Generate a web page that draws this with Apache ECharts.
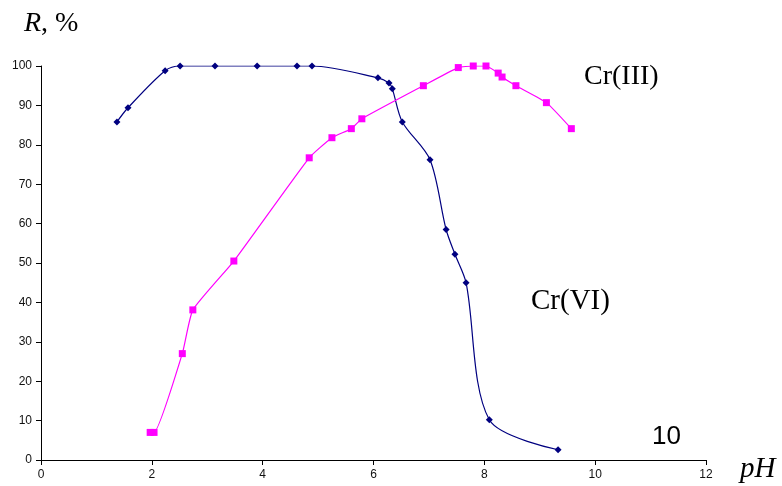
<!DOCTYPE html>
<html>
<head>
<meta charset="utf-8">
<script src="https://cdn.jsdelivr.net/npm/echarts@6/dist/echarts.min.js"></script>
<style>
	html, body { margin: 0; padding: 0; background: #fff; }
	#chart { width: 782px; height: 486px; }
</style>
</head>
<body>
<div id="chart"></div>
<script>
	// Cr(VI) — синяя кривая
	const crVI_pH = [1.37, 1.57, 2.24, 2.51, 3.14, 3.90, 4.62, 4.89, 6.08, 6.28, 6.34, 6.52, 7.02, 7.31, 7.47, 7.67, 8.09, 9.33];
	const crVI_R = [85.8, 89.4, 98.8, 100, 100, 100, 100, 100, 97.0, 95.7, 94.2, 85.8, 76.2, 58.5, 52.2, 45.0, 10.2, 2.6];
	// Cr(III) — розовая кривая
	const crIII_pH = [1.97, 2.04, 2.55, 2.74, 3.48, 4.84, 5.25, 5.60, 5.79, 6.90, 7.53, 7.80, 8.03, 8.25, 8.32, 8.57, 9.12, 9.57];
	const crIII_R = [7.0, 7.0, 27.0, 38.1, 50.5, 76.7, 81.8, 84.1, 86.6, 95.0, 99.6, 100, 100, 98.2, 97.2, 95.0, 90.7, 84.1];

	const pair = (xs, ys) => xs.map((x, i) => [x, ys[i]]);

	const tickFont = {
		fontFamily: 'Liberation Sans Narrow, Liberation Sans, Arial',
		fontSize: 12,
		color: '#111'
	};

	const myChart = echarts.init(document.getElementById('chart'));
	const option = {
		animation: false,
		grid: { left: 41, right: 76, top: 66, bottom: 26 },
		xAxis: {
			type: 'value',
			min: 0,
			max: 12,
			interval: 2,
			splitLine: { show: false },
			axisLine: { onZero: false, lineStyle: { color: '#000', width: 1 } },
			axisTick: { show: true, length: 5, lineStyle: { color: '#000' } },
			axisLabel: Object.assign({ margin: 9 }, tickFont)
		},
		yAxis: {
			type: 'value',
			min: 0,
			max: 100,
			interval: 10,
			splitLine: { show: false },
			axisLine: { show: true, lineStyle: { color: '#000', width: 1 } },
			axisTick: { show: true, length: 5, lineStyle: { color: '#000' } },
			axisLabel: Object.assign({ margin: 9 }, tickFont)
		},
		series: [{
			name: 'Cr(VI)',
			type: 'line',
			smooth: 0.3,
			data: pair(crVI_pH, crVI_R),
			symbol: 'diamond',
			symbolSize: 7,
			itemStyle: { color: '#000080' },
			lineStyle: { color: '#000080', width: 1.2 }
		}, {
			name: 'Cr(III)',
			type: 'line',
			smooth: 0.15,
			data: pair(crIII_pH, crIII_R),
			symbol: 'rect',
			symbolSize: 7,
			itemStyle: { color: '#FF00FF' },
			lineStyle: { color: '#FF00FF', width: 1.2 }
		}],
		graphic: [{
			type: 'text', left: 24, top: 10,
			style: { text: '{i|R}, %', fill: '#000', font: '28px Liberation Serif',
				rich: { i: { fontStyle: 'italic', fontFamily: 'Liberation Serif', fontSize: 28 } } }
		}, {
			type: 'text', left: 584, top: 63,
			style: { text: 'Cr(III)', fill: '#000', font: '28px Liberation Serif' }
		}, {
			type: 'text', left: 531, top: 287,
			style: { text: 'Cr(VI)', fill: '#000', font: '29px Liberation Serif' }
		}, {
			type: 'text', left: 652, top: 424,
			style: { text: '10', fill: '#000', font: '26px Liberation Sans' }
		}, {
			type: 'text', left: 740, top: 455,
			style: { text: 'pH', fill: '#000', font: 'italic 29px Liberation Serif' }
		}]
	};
	myChart.setOption(option);
</script>
</body>
</html>
